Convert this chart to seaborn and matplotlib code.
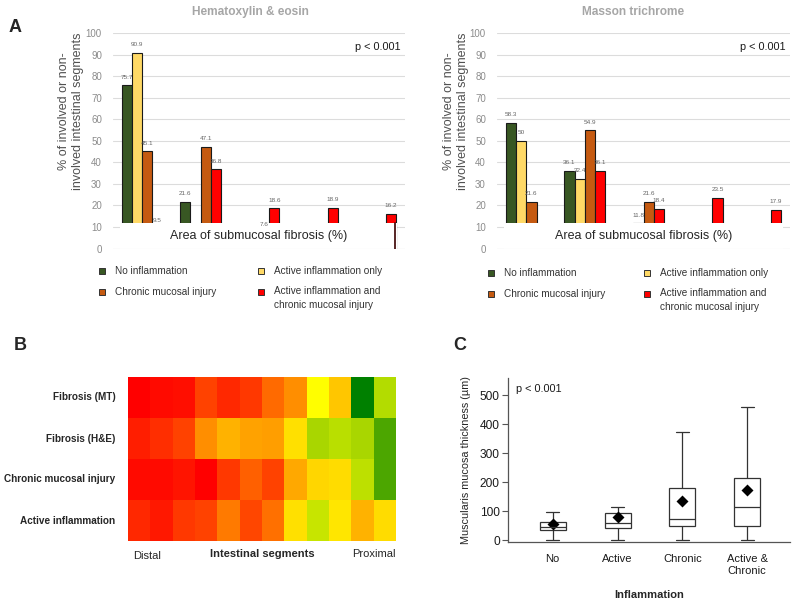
import numpy as np
import pandas as pd
import seaborn as sns
import matplotlib.pyplot as plt
from matplotlib.patches import Rectangle
from matplotlib.lines import Line2D
from matplotlib.colors import LinearSegmentedColormap
from matplotlib.transforms import blended_transform_factory

# ---- panel A data (percent of segments per fibrosis-area bin) ----
bins = ["0", "1-25", "26-50", "51-75", "76-100"]
groups = ["No inflammation", "Active inflammation only", "Chronic mucosal injury",
          "Active inflammation and\nchronic mucosal injury"]
group_colors = ["#385723", "#ffd966", "#c55a11", "#ff0000"]

he_none = [75.7, 21.6, np.nan, np.nan, np.nan]
he_active = [90.9, np.nan, np.nan, np.nan, np.nan]
he_chronic = [45.1, 47.1, 7.6, np.nan, np.nan]
he_both = [9.5, 36.8, 18.6, 18.9, 16.2]

mt_none = [58.3, 36.1, np.nan, np.nan, np.nan]
mt_active = [50, 32.4, 11.8, np.nan, np.nan]
mt_chronic = [21.6, 54.9, 21.6, np.nan, np.nan]
mt_both = [np.nan, 36.1, 18.4, 23.5, 17.9]

# ---- panel B data (involvement score, 100 = red, 0 = green), distal -> proximal ----
heat_rows = ["Fibrosis (MT)", "Fibrosis (H&E)", "Chronic mucosal injury", "Active inflammation"]
fib_mt = [100, 98, 97, 87, 92, 89, 79, 72, 50, 61, 0, 35]
fib_he = [94, 91, 87, 72, 65, 68, 69, 56, 33, 36, 33, 15]
chronic_inj = [98, 98, 96, 100, 89, 81, 87, 67, 58, 57, 37, 15]
active_inf = [92, 95, 89, 87, 76, 86, 78, 56, 39, 55, 65, 57]

# ---- panel C data (five-number summaries and means, um) ----
infl_groups = ["No", "Active", "Chronic", "Active &\nChronic"]
box_min = [0, 0, 0, 0]
box_q1 = [34, 42, 48, 50]
box_med = [45, 61, 72, 114]
box_q3 = [63, 93, 180, 216]
box_max = [99, 114, 375, 459]
box_mean = [56, 80, 136, 173]

sns.set_style("white")
plt.rcParams["font.family"] = ["Liberation Sans", "DejaVu Sans"]

fig = plt.figure(figsize=(8, 6.04), dpi=100)
W, H = 800, 604


def fx(px):
    return px / W


def fy(py):
    return 1 - py / H


def bar_panel(rect, vals, title, title_x, ylab_x, box_x0, box_x1, spike=False):
    ax = fig.add_axes(rect)
    rows = []
    for g, v in zip(groups, vals):
        for b, val in zip(bins, v):
            rows.append({"bin": b, "group": g, "pct": val})
    df = pd.DataFrame(rows).dropna()
    sns.barplot(data=df, x="bin", y="pct", hue="group", order=bins, hue_order=groups,
                palette=group_colors, saturation=1, width=0.7, edgecolor="#1a1a1a",
                linewidth=0.8, legend=False, ax=ax, zorder=2)
    for c in ax.containers:
        lab = ax.bar_label(c, fmt="%g", padding=4, fontsize=4.6, color="#666666")
        for t in lab:
            t.set_zorder(5)
    ax.set_xlim(-0.5, 4.5)
    ax.set_ylim(0, 100)
    ax.set_yticks(range(0, 101, 10))
    ax.yaxis.grid(True, color="#dcdcdc", lw=0.8)
    ax.set_axisbelow(True)
    ax.set_xticks([])
    ax.set_xlabel("")
    ax.set_ylabel("")
    ax.tick_params(axis="y", length=0, labelsize=7, labelcolor="#8c8c8c", pad=8)
    for s in ax.spines.values():
        s.set_visible(False)
    tr = blended_transform_factory(ax.transAxes, ax.transData)
    # white band hiding the lower part of the bars, as in the source figure
    ax.add_patch(Rectangle((box_x0, -2), box_x1 - box_x0, 13.7, transform=tr,
                           facecolor="white", edgecolor="none", zorder=3))
    ax.axhline(0, color="#dcdcdc", lw=0.8, zorder=3.2)
    if spike:
        p = ax.containers[-1][-1]
        xs = p.get_x() + p.get_width() * 0.88
        ax.plot([xs, xs], [0, 11.7], color="#3a0000", lw=1.2, zorder=4)
    ax.text(0.5, 6.0, "Area of submucosal fibrosis (%)", transform=tr, ha="center",
            va="center", fontsize=9, color="#262626", zorder=5)
    ax.text(0.985, 93.5, "p < 0.001", transform=tr, ha="right", va="center",
            fontsize=7.8, color="#1a1a1a")
    fig.text(fx(title_x), fy(12), title, ha="center", va="center", fontsize=8.6,
             fontweight="bold", color="#a6a6a6")
    fig.text(fx(ylab_x), fy(111), "% of involved or non-\ninvolved intestinal segments",
             rotation=90, ha="center", va="center", fontsize=9, color="#505050",
             linespacing=1.2)
    return ax


bar_panel([fx(113), fy(248.6), fx(292), 215.6 / H],
          [he_none, he_active, he_chronic, he_both], "Hematoxylin & eosin", 250, 71,
          0.024, 0.972, spike=True)
bar_panel([fx(497), fy(248.6), fx(293), 215.6 / H],
          [mt_none, mt_active, mt_chronic, mt_both], "Masson trichrome", 633, 456,
          0.024, 0.976)


def legend_block(x0, x1, y0, y1):
    spots = [(x0, y0), (x1, y0), (x0, y1), (x1, y1)]
    for (mx, my), g, col in zip(spots, groups, group_colors):
        fig.add_artist(Line2D([fx(mx)], [fy(my)], marker="s", markersize=4.2,
                              markerfacecolor=col, markeredgecolor="#333333",
                              markeredgewidth=0.7, transform=fig.transFigure))
        if "\n" in g:
            fig.text(fx(mx + 13), fy(my - 6), g, ha="left", va="top", fontsize=7.2,
                     color="#333333", linespacing=1.45)
        else:
            fig.text(fx(mx + 13), fy(my), g, ha="left", va="center", fontsize=7.2,
                     color="#333333")


legend_block(102, 261, 271, 292)
legend_block(491, 647, 273, 294)

# ---- panel B ----
cmap = LinearSegmentedColormap.from_list(
    "rg", [(0, "#008000"), (0.15, "#4ca600"), (0.35, "#b4dc00"), (0.5, "#ffff00"),
           (0.75, "#ff8000"), (1.0, "#ff0000")])
heat = pd.DataFrame([fib_mt, fib_he, chronic_inj, active_inf], index=heat_rows)
axb = fig.add_axes([fx(128), fy(541), fx(268), 164 / H])
sns.heatmap(heat, cmap=cmap, vmin=0, vmax=100, cbar=False, xticklabels=False,
            yticklabels=True, ax=axb)
axb.set_yticklabels(heat_rows, rotation=0, fontsize=7.2, fontweight="bold")
axb.tick_params(axis="y", length=0, pad=9)
axb.set_ylabel("")
axb.text(0.02, -0.09, "Distal", transform=axb.transAxes, ha="left", va="center",
         fontsize=8)
axb.text(0.5, -0.08, "Intestinal segments", transform=axb.transAxes, ha="center",
         va="center", fontsize=8, fontweight="bold")
axb.text(1.0, -0.08, "Proximal", transform=axb.transAxes, ha="right", va="center",
         fontsize=8)

# ---- panel C ----
axc = fig.add_axes([fx(508), fy(542), fx(282), (542 - 378) / H])
box_rows = []
for g, a, b, c, d, e in zip(infl_groups, box_min, box_q1, box_med, box_q3, box_max):
    for v in (a, b, c, d, e):
        box_rows.append({"grp": g, "um": v})
box_df = pd.DataFrame(box_rows)
sns.boxplot(data=box_df, x="grp", y="um", order=infl_groups, whis=(0, 100), width=0.4,
            color="white", linecolor="#333333", linewidth=0.9, ax=axc)
sns.pointplot(x=infl_groups, y=box_mean, order=infl_groups, linestyle="none",
              markers="D", color="black", markersize=4.3, ax=axc)
axc.set_xlim(-0.69, 3.66)
axc.set_ylim(-6, 560)
axc.set_yticks([0, 100, 200, 300, 400, 500])
for s in ("top", "right"):
    axc.spines[s].set_visible(False)
for s in ("left", "bottom"):
    axc.spines[s].set_color("#555555")
    axc.spines[s].set_linewidth(0.9)
axc.tick_params(axis="y", length=4, width=0.8, color="#555555", labelsize=8.6,
                labelcolor="#1a1a1a", pad=2, left=True)
axc.tick_params(axis="x", length=0, labelsize=8, labelcolor="#1a1a1a", pad=9)
axc.set_xlabel("Inflammation", fontsize=8, fontweight="bold", labelpad=10)
axc.set_ylabel("Muscularis mucosa thickness (\u00b5m)", fontsize=7.8, labelpad=6)
axc.text(0.03, 0.93, "p < 0.001", transform=axc.transAxes, ha="left", va="center",
         fontsize=7.8, color="#1a1a1a")

# panel letters
fig.text(fx(15), fy(27), "A", fontsize=13, fontweight="bold", ha="center", va="center")
fig.text(fx(20), fy(345), "B", fontsize=13, fontweight="bold", ha="center", va="center")
fig.text(fx(460), fy(345), "C", fontsize=13, fontweight="bold", ha="center", va="center")

fig.savefig("out.png", dpi=100)
